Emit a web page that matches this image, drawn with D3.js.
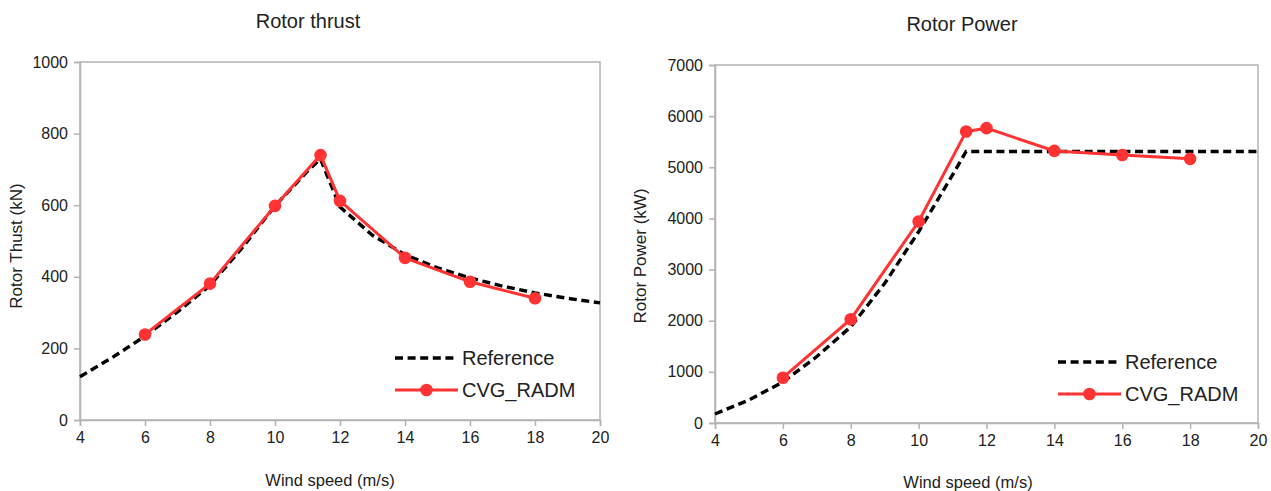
<!DOCTYPE html>
<html>
<head>
<meta charset="utf-8">
<script src="https://cdn.jsdelivr.net/npm/d3@7"></script>
<style>
  html, body { margin: 0; padding: 0; background: #fff; }
  svg { display: block; }
  .tick text { font-family: "Liberation Sans", Arial, sans-serif; font-size: 16px; fill: #222; }
  .title { font-family: "Liberation Sans", Arial, sans-serif; font-size: 20px; fill: #222; }
  .xtitle { font-family: "Liberation Sans", Arial, sans-serif; font-size: 16.5px; fill: #222; }
  .ytitle { font-family: "Liberation Sans", Arial, sans-serif; font-size: 17px; fill: #222; }
  .legend { font-family: "Liberation Sans", Arial, sans-serif; font-size: 20px; fill: #222; }
</style>
</head>
<body>
<svg id="chart" width="1271" height="491"></svg>
<script>
// Wind speeds (m/s)
const refSpeeds = [4, 5, 6, 7, 8, 9, 10, 11, 11.4, 12, 13, 14, 15, 16, 17, 18, 19, 20];
const cvgSpeeds = [6, 8, 10, 11.4, 12, 14, 16, 18];

// Rotor thrust (kN)
const thrustReference = [121, 175, 234, 302, 376, 482, 598, 695, 729, 595, 516, 462, 425, 397, 374, 355, 340, 327];
const thrustCVG = [239, 381, 598, 740, 612, 453, 386, 340];

// Rotor power (kW)
const powerReference = [176, 450, 800, 1300, 1880, 2730, 3740, 4850, 5310, 5310, 5310, 5310, 5310, 5310, 5310, 5310, 5310, 5310];
const powerCVG = [885, 2030, 3940, 5700, 5765, 5320, 5240, 5165];

// Axis ticks
const xTicks = [4, 6, 8, 10, 12, 14, 16, 18, 20];
const thrustTicks = [0, 200, 400, 600, 800, 1000];
const powerTicks = [0, 1000, 2000, 3000, 4000, 5000, 6000, 7000];

const seriesNames = ["Reference", "CVG_RADM"];

const svg = d3.select("#chart");
const RED = "#ff3333";
const AXIS = "#b3b3b3";
const DASH = "8,4.6";

function drawPanel(cfg) {
  const g = svg.append("g");
  const x = d3.scaleLinear().domain([4, 20]).range([cfg.left, cfg.right]);
  const y = d3.scaleLinear().domain([0, cfg.yMax]).range([cfg.bottom, cfg.top]);

  // Plot frame
  g.append("rect")
    .attr("x", cfg.left).attr("y", cfg.top)
    .attr("width", cfg.right - cfg.left).attr("height", cfg.bottom - cfg.top)
    .attr("fill", "none").attr("stroke", AXIS).attr("stroke-width", 1.5);

  const xAxis = g.append("g")
    .attr("transform", `translate(0,${cfg.bottom})`)
    .call(d3.axisBottom(x).tickValues(xTicks).tickSize(6).tickPadding(6).tickFormat(d3.format("d")));
  const yAxis = g.append("g")
    .attr("transform", `translate(${cfg.left},0)`)
    .call(d3.axisLeft(y).tickValues(cfg.yTicks).tickSize(6).tickPadding(6).tickFormat(d3.format("d")));
  [xAxis, yAxis].forEach(a => {
    a.select(".domain").attr("stroke", AXIS).attr("stroke-width", 1.5);
    a.selectAll(".tick line").attr("stroke", AXIS).attr("stroke-width", 1.5);
  });

  const line = d3.line().x(d => x(d[0])).y(d => y(d[1]));
  const refPts = refSpeeds.map((s, i) => [s, cfg.ref[i]]);
  const cvgPts = cvgSpeeds.map((s, i) => [s, cfg.cvg[i]]);

  g.append("path").datum(refPts).attr("d", line)
    .attr("fill", "none").attr("stroke", "#000").attr("stroke-width", 3.4)
    .attr("stroke-dasharray", DASH);
  g.append("path").datum(cvgPts).attr("d", line)
    .attr("fill", "none").attr("stroke", RED).attr("stroke-width", 3);
  g.selectAll("circle.pt").data(cvgPts).enter().append("circle")
    .attr("class", "pt")
    .attr("cx", d => x(d[0])).attr("cy", d => y(d[1])).attr("r", 6.3)
    .attr("fill", RED);

  // Titles
  g.append("text").attr("class", "title")
    .attr("x", cfg.titleX).attr("y", cfg.titleY).attr("text-anchor", "middle").text(cfg.title);
  g.append("text").attr("class", "xtitle")
    .attr("x", cfg.xTitleX).attr("y", cfg.xTitleY).attr("text-anchor", "middle")
    .text("Wind speed (m/s)");
  g.append("text").attr("class", "ytitle")
    .attr("transform", `translate(${cfg.yTitleX},${cfg.yTitleY}) rotate(-90)`)
    .attr("text-anchor", "middle").text(cfg.yTitle);

  // Legend
  const lg = g.append("g").attr("transform", `translate(${cfg.legX},${cfg.legY})`);
  lg.append("line").attr("x1", 0).attr("x2", 63).attr("y1", 0).attr("y2", 0)
    .attr("stroke", "#000").attr("stroke-width", 3.4).attr("stroke-dasharray", DASH);
  lg.append("text").attr("class", "legend").attr("x", 67).attr("y", 7).text(seriesNames[0]);
  lg.append("line").attr("x1", 0).attr("x2", 63).attr("y1", 32).attr("y2", 32)
    .attr("stroke", RED).attr("stroke-width", 3);
  lg.append("circle").attr("cx", 31.5).attr("cy", 32).attr("r", 6.3).attr("fill", RED);
  lg.append("text").attr("class", "legend").attr("x", 67).attr("y", 39).text(seriesNames[1]);
}

drawPanel({
  left: 80, right: 600, top: 62, bottom: 420,
  yMax: 1000, yTicks: thrustTicks,
  ref: thrustReference, cvg: thrustCVG,
  title: "Rotor thrust", titleX: 308, titleY: 28,
  yTitle: "Rotor Thust (kN)", yTitleX: 22, yTitleY: 246,
  xTitleX: 330, xTitleY: 486,
  legX: 395, legY: 358
});

drawPanel({
  left: 715, right: 1258, top: 65, bottom: 423,
  yMax: 7000, yTicks: powerTicks,
  ref: powerReference, cvg: powerCVG,
  title: "Rotor Power", titleX: 962, titleY: 31,
  yTitle: "Rotor Power (kW)", yTitleX: 646, yTitleY: 256,
  xTitleX: 968, xTitleY: 488,
  legX: 1058, legY: 362
});
</script>
</body>
</html>
